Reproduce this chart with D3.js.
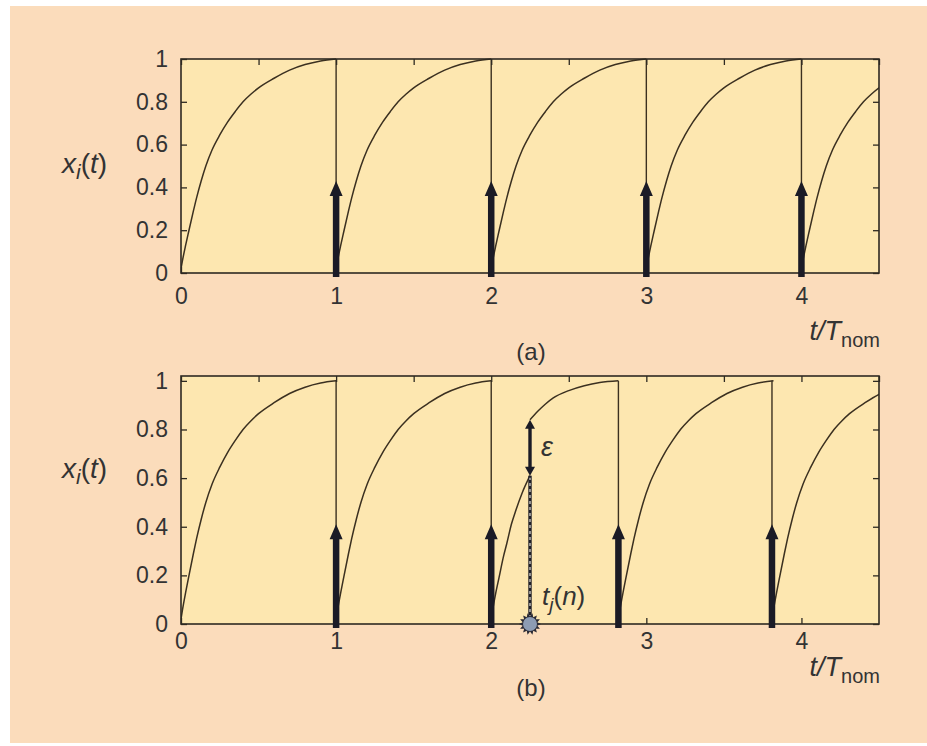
<!DOCTYPE html>
<html>
<head>
<meta charset="utf-8">
<script src="https://cdn.jsdelivr.net/npm/d3@7"></script>
<style>
  html, body { margin: 0; padding: 0; background: #ffffff; }
  svg { display: block; }
  text { font-family: "Liberation Sans", Arial, sans-serif; fill: #333333; }
</style>
</head>
<body>
<svg id="chart" width="927" height="746"></svg>
<script>
// One integrate-and-fire cycle: state level against phase within the cycle
const cyclePhase = [0, 0.01, 0.03, 0.05, 0.08, 0.10, 0.13, 0.16, 0.20, 0.25, 0.30, 0.35, 0.40, 0.45, 0.50, 0.60, 0.70, 0.80, 0.90, 1.00];
const cycleLevel = [0.02, 0.06, 0.13, 0.195, 0.29, 0.35, 0.43, 0.50, 0.575, 0.645, 0.705, 0.755, 0.80, 0.835, 0.865, 0.91, 0.948, 0.974, 0.991, 1.00];

// (a) unperturbed oscillator
const cycleStartsA = [0, 1, 2, 3, 4];
const firingsA = [1, 2, 3, 4];
const pulseTopA = 0.43;

// (b) oscillator receiving a pulse at t_j(n)
const cycleStartsB = [0, 1, 2.82, 3.81];
const beforePulseT = [2.00, 2.01, 2.03, 2.05, 2.08, 2.10, 2.13, 2.16, 2.20, 2.25];
const beforePulseX = [0.02, 0.06, 0.13, 0.19, 0.28, 0.33, 0.41, 0.47, 0.54, 0.61];
const pulseTime = 2.25;           // t_j(n)
const afterPulseT = [2.25, 2.30, 2.35, 2.40, 2.50, 2.60, 2.70, 2.82];
const afterPulseX = [0.84, 0.875, 0.905, 0.93, 0.96, 0.98, 0.993, 1.00];
const firingsB = [1, 2, 2.82, 3.81];
const pulseTopB = 0.41;

// Axis ticks
const xTickValues = [0, 1, 2, 3, 4];
const xTickLabels = ["0", "1", "2", "3", "4"];
const xMinorTicks = [0, 0.5, 1, 1.5, 2, 2.5, 3, 3.5, 4, 4.5];
const yTickValues = [0, 0.2, 0.4, 0.6, 0.8, 1];
const yTickLabels = ["0", "0.2", "0.4", "0.6", "0.8", "1"];

const svg = d3.select("#chart");
const W = 927, H = 746;

const colors = {
  page: "#fbdcbb",
  plot: "#fde7b0",
  frame: "#2e2a22",
  curve: "#3b3020",
  pulse: "#1b1b26",
  star: "#8d9cb3"
};

svg.append("rect").attr("x", 10).attr("y", 6).attr("width", W - 10).attr("height", H - 9)
  .attr("fill", colors.page);

const x = d3.scaleLinear().domain([0, 4.5]).range([181, 879]);

const cyclePoints = start => cyclePhase.map((p, i) => [start + p, cycleLevel[i]]);

function drawPanel(opts) {
  const { top, bottom, yMax, id } = opts;
  const y = d3.scaleLinear().domain([0, yMax]).range([bottom, top]);
  const g = svg.append("g");

  g.append("rect")
    .attr("x", x(0)).attr("y", y(yMax))
    .attr("width", x(4.5) - x(0)).attr("height", y(0) - y(yMax))
    .attr("fill", colors.plot);

  g.append("clipPath").attr("id", "clip-" + id)
    .append("rect")
    .attr("x", x(0)).attr("y", y(yMax) - 2)
    .attr("width", x(4.5) - x(0)).attr("height", y(0) - y(yMax) + 4);

  const plot = g.append("g").attr("clip-path", `url(#clip-${id})`);

  const line = d3.line()
    .x(d => x(d[0])).y(d => y(d[1]))
    .curve(d3.curveMonotoneX);

  // reset drops at each firing
  plot.selectAll(".drop").data(opts.firings).join("line")
    .attr("x1", d => x(d)).attr("x2", d => x(d))
    .attr("y1", y(1)).attr("y2", y(0))
    .attr("stroke", colors.curve).attr("stroke-width", 1.4);

  plot.selectAll(".seg").data(opts.segments).join("path")
    .attr("d", line)
    .attr("fill", "none")
    .attr("stroke", colors.curve)
    .attr("stroke-width", 1.5);

  // axes (ticks point inward)
  const axL = d3.axisLeft(y).tickValues(yTickValues)
    .tickFormat((d, i) => yTickLabels[i]).tickSize(-6).tickPadding(13);
  const axR = d3.axisRight(y).tickValues(yTickValues).tickFormat("").tickSize(-6);
  const axB = d3.axisBottom(x).tickValues(xTickValues)
    .tickFormat((d, i) => xTickLabels[i]).tickSize(-6).tickPadding(opts.xPad);
  const axT = d3.axisTop(x).tickValues(xMinorTicks).tickFormat("").tickSize(-6);

  const styleAxis = sel => {
    sel.select(".domain").remove();
    sel.selectAll(".tick line").attr("stroke", colors.frame).attr("stroke-width", 1.3);
    sel.selectAll(".tick text").attr("font-size", 23).attr("fill", "#333")
      .attr("font-family", '"Liberation Sans", Arial, sans-serif');
  };
  g.append("g").attr("transform", `translate(${x(0)},0)`).call(axL).call(styleAxis);
  g.append("g").attr("transform", `translate(${x(4.5)},0)`).call(axR).call(styleAxis);
  g.append("g").attr("transform", `translate(0,${y(0)})`).call(axB).call(styleAxis);
  g.append("g").attr("transform", `translate(0,${y(yMax)})`).call(axT).call(styleAxis);

  g.append("rect")
    .attr("x", x(0)).attr("y", y(yMax))
    .attr("width", x(4.5) - x(0)).attr("height", y(0) - y(yMax))
    .attr("fill", "none").attr("stroke", colors.frame).attr("stroke-width", 1.6);

  // firing pulses: thick upward arrows
  const shaftW = 6.5, headW = 13, headH = 15;
  g.selectAll(".pulse").data(opts.firings).join("path")
    .attr("d", d => {
      const cx = x(d), tip = y(opts.pulseTop), base = y(0) + 4;
      return `M${cx - shaftW / 2},${base} L${cx - shaftW / 2},${tip + headH} L${cx - headW / 2},${tip + headH}
              L${cx},${tip} L${cx + headW / 2},${tip + headH} L${cx + shaftW / 2},${tip + headH}
              L${cx + shaftW / 2},${base} Z`;
    })
    .attr("fill", colors.pulse);

  // y-axis title
  const yt = g.append("text")
    .attr("x", 62).attr("y", opts.titleY)
    .attr("font-size", 28);
  yt.append("tspan").attr("font-style", "italic").text("x");
  yt.append("tspan").attr("font-style", "italic").attr("font-size", 21).attr("dy", 6).text("i");
  yt.append("tspan").attr("dy", -6).text("(");
  yt.append("tspan").attr("font-style", "italic").text("t");
  yt.append("tspan").text(")");

  // x-axis title
  const xt = g.append("text")
    .attr("x", 880).attr("y", y(0) + opts.xTitleOff)
    .attr("text-anchor", "end")
    .attr("font-size", 27);
  xt.append("tspan").attr("font-style", "italic").text("t/T");
  xt.append("tspan").attr("font-size", 20).attr("dy", 7).text("nom");

  g.append("text")
    .attr("x", 531).attr("y", y(0) + opts.tagOff)
    .attr("text-anchor", "middle")
    .attr("font-size", 24)
    .text(opts.tag);

  return { g, y };
}

// panel (a)
const segA = cycleStartsA.map(cyclePoints);
drawPanel({
  id: "a", top: 59, bottom: 273, yMax: 1,
  segments: segA, firings: firingsA, pulseTop: pulseTopA,
  titleY: 173, tag: "(a)", xPad: 15, xTitleOff: 67, tagOff: 87
});

// panel (b)
const beforePulse = beforePulseT.map((t, i) => [t, beforePulseX[i]]);
const afterPulse = afterPulseT.map((t, i) => [t, afterPulseX[i]]);
const segB = [...cycleStartsB.map(cyclePoints), beforePulse, afterPulse];
const pb = drawPanel({
  id: "b", top: 376, bottom: 624, yMax: 1.02,
  segments: segB, firings: firingsB, pulseTop: pulseTopB,
  titleY: 478, tag: "(b)", xPad: 9, xTitleOff: 52, tagOff: 72
});

// incoming pulse at t_j(n): dotted guide, epsilon jump arrow, marker
const yb = pb.y;
const gb = pb.g;
const low = beforePulse[beforePulse.length - 1][1];
const high = afterPulse[0][1];
const px = x(pulseTime);

gb.append("line")
  .attr("x1", px).attr("x2", px).attr("y1", yb(0)).attr("y2", yb(low))
  .attr("stroke", "#1f1f28").attr("stroke-width", 3.4);
gb.append("line")
  .attr("x1", px).attr("x2", px).attr("y1", yb(0)).attr("y2", yb(low) + 2)
  .attr("stroke", "#f4f0e6").attr("stroke-width", 1.1)
  .attr("stroke-dasharray", "3,3");

const epsHead = 9, epsW = 10;
gb.append("line")
  .attr("x1", px).attr("x2", px)
  .attr("y1", yb(high) + epsHead - 1).attr("y2", yb(low) - epsHead + 1)
  .attr("stroke", colors.pulse).attr("stroke-width", 3.4);
gb.append("path")
  .attr("d", `M${px},${yb(high)} L${px - epsW / 2},${yb(high) + epsHead} L${px + epsW / 2},${yb(high) + epsHead} Z`)
  .attr("fill", colors.pulse);
gb.append("path")
  .attr("d", `M${px},${yb(low)} L${px - epsW / 2},${yb(low) - epsHead} L${px + epsW / 2},${yb(low) - epsHead} Z`)
  .attr("fill", colors.pulse);

gb.append("text")
  .attr("x", px + 11).attr("y", (yb(high) + yb(low)) / 2 + 8)
  .attr("font-size", 27).attr("font-style", "italic")
  .text("ε");

// spiky marker for the received pulse
const spikes = 14, rOut = 11, rIn = 7.5;
const starPts = d3.range(spikes * 2).map(k => {
  const a = Math.PI * k / spikes;
  const r = k % 2 === 0 ? rOut : rIn;
  return [px + r * Math.cos(a), yb(0) + r * Math.sin(a)];
});
gb.append("path")
  .attr("d", "M" + starPts.map(p => p.join(",")).join("L") + "Z")
  .attr("fill", "#2a2a34");
gb.append("circle").attr("cx", px).attr("cy", yb(0)).attr("r", 7)
  .attr("fill", colors.star);

const tj = gb.append("text")
  .attr("x", px + 12).attr("y", yb(0) - 19)
  .attr("font-size", 26);
tj.append("tspan").attr("font-style", "italic").text("t");
tj.append("tspan").attr("font-style", "italic").attr("font-size", 19).attr("dy", 6).text("j");
tj.append("tspan").attr("dy", -6).text("(");
tj.append("tspan").attr("font-style", "italic").text("n");
tj.append("tspan").text(")");
</script>
</body>
</html>
